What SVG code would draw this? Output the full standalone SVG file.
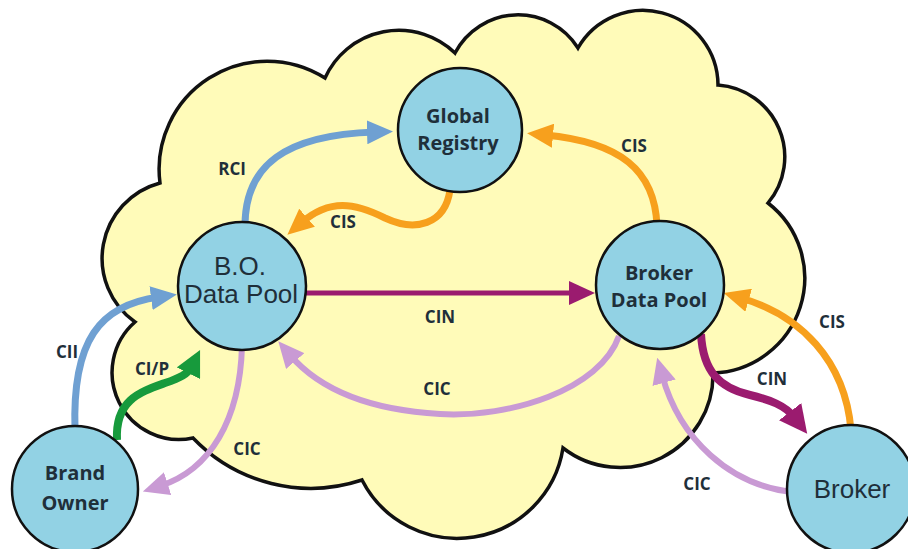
<svg xmlns="http://www.w3.org/2000/svg" width="908" height="549" viewBox="0 0 908 549">
<style>
.cloud{fill:#fffbb9;stroke:#111;stroke-width:3.5;stroke-linejoin:miter}
.node{fill:#92d2e4;stroke:#111;stroke-width:2.5}
.bt{font-family:"Open Sans","Liberation Sans",sans-serif;font-weight:bold;font-size:20px;fill:#1f2f3a;text-anchor:middle}
.rt{font-family:"Liberation Sans",Arial,sans-serif;font-size:26px;fill:#1f2f3a;text-anchor:middle}
.lbl{font-family:"Open Sans","Liberation Sans",sans-serif;font-weight:bold;font-size:17px;fill:#1f2f3a;text-anchor:middle}
.c{fill:none;stroke-linecap:butt}
.blue{stroke:#6fa0d2;stroke-width:7}
.orange{stroke:#f7a01d;stroke-width:7}
.purple{stroke:#9b1b6f}
.lilac{stroke:#c99ad4;stroke-width:6}
.green{stroke:#179a3c;stroke-width:8}
</style>
<defs>
<marker id="hBlue" viewBox="0 0 26 24" refX="8" refY="12" markerWidth="26" markerHeight="24" markerUnits="userSpaceOnUse" orient="auto"><path d="M0,0 L26,12 L0,24 Z" fill="#6fa0d2"/></marker>
<marker id="hOrange" viewBox="0 0 26 24" refX="8" refY="12" markerWidth="26" markerHeight="24" markerUnits="userSpaceOnUse" orient="auto"><path d="M0,0 L26,12 L0,24 Z" fill="#f7a01d"/></marker>
<marker id="hPurple" viewBox="0 0 26 24" refX="8" refY="12" markerWidth="26" markerHeight="24" markerUnits="userSpaceOnUse" orient="auto"><path d="M0,0 L26,12 L0,24 Z" fill="#9b1b6f"/></marker>
<marker id="hPurpleL" viewBox="0 0 28 28" refX="8" refY="14" markerWidth="28" markerHeight="28" markerUnits="userSpaceOnUse" orient="auto"><path d="M0,0 L28,14 L0,28 Z" fill="#9b1b6f"/></marker>
<marker id="hLilac" viewBox="0 0 26 24" refX="8" refY="12" markerWidth="26" markerHeight="24" markerUnits="userSpaceOnUse" orient="auto"><path d="M0,0 L26,12 L0,24 Z" fill="#c99ad4"/></marker>
<marker id="hGreen" viewBox="0 0 26 26" refX="8" refY="13" markerWidth="26" markerHeight="26" markerUnits="userSpaceOnUse" orient="auto"><path d="M0,0 L26,13 L0,26 Z" fill="#179a3c"/></marker>
</defs>
<rect width="908" height="549" fill="#ffffff"/>
<path id="cloud" class="cloud" d="M325,78 A81,81 0 0 1 455,53 A71,71 0 0 1 578,48 A75,75 0 0 1 718,85 A72,72 0 0 1 768,203 A95,95 0 0 1 713,373 A93,93 0 0 1 563,448 A107,107 0 0 1 362,480 A163,163 0 0 1 193,438 A67,67 0 0 1 135,322 A78,78 0 0 1 160,183 A108,108 0 0 1 325,78 Z"/>
<g id="connectors">
<path class="c blue" d="M245,226 C245,165 285,135 375,132" marker-end="url(#hBlue)"/>
<path class="c orange" d="M450,190 C445,225 415,232 385,218 C355,203 330,198 301,223" marker-end="url(#hOrange)"/>
<path class="c orange" d="M657,226 C655,170 620,142 545,135" marker-end="url(#hOrange)"/>
<path class="c purple" style="stroke-width:5" d="M300,293 L577,293" marker-end="url(#hPurple)"/>
<path class="c lilac" d="M619,336 C600,390 510,418 440,414 C370,410 320,390 290,355" marker-end="url(#hLilac)"/>
<path class="c blue" d="M75,430 C72,340 100,305 159,297" marker-end="url(#hBlue)"/>
<path class="c green" d="M117,440 C115,400 140,392 165,383 C180,378 188,374 192,366" marker-end="url(#hGreen)"/>
<path class="c lilac" d="M242,346 C240,420 210,470 160,486" marker-end="url(#hLilac)"/>
<path class="c purple" style="stroke-width:8" d="M701,334 C703,372 720,388 750,395 C770,400 785,405 795,418" marker-end="url(#hPurpleL)"/>
<path class="c orange" d="M851,430 C845,360 800,315 741,298" marker-end="url(#hOrange)"/>
<path class="c lilac" d="M792,492 C730,485 680,440 662,375" marker-end="url(#hLilac)"/>
</g>
<g id="labels">
<text class="lbl" x="232" y="175">RCI</text>
<text class="lbl" x="343" y="228">CIS</text>
<text class="lbl" x="634" y="152">CIS</text>
<text class="lbl" x="440" y="323">CIN</text>
<text class="lbl" x="437" y="395">CIC</text>
<text class="lbl" x="67" y="358">CII</text>
<text class="lbl" x="152" y="375">CI/P</text>
<text class="lbl" x="247" y="455">CIC</text>
<text class="lbl" x="772" y="385">CIN</text>
<text class="lbl" x="832" y="328">CIS</text>
<text class="lbl" x="697" y="490">CIC</text>
</g>
<g id="global-registry">
<circle class="node" cx="460" cy="130" r="62"/>
<text class="bt" x="458" y="123">Global</text>
<text class="bt" x="458" y="150">Registry</text>
</g>
<g id="bo-data-pool">
<circle class="node" cx="242" cy="286" r="64"/>
<text class="rt" x="240" y="275">B.O.</text>
<text class="rt" x="241" y="303">Data Pool</text>
</g>
<g id="broker-data-pool">
<circle class="node" cx="660" cy="285" r="64"/>
<text class="bt" x="659" y="280">Broker</text>
<text class="bt" x="659" y="307">Data Pool</text>
</g>
<g id="brand-owner">
<circle class="node" cx="75" cy="489" r="63"/>
<text class="bt" x="75" y="480">Brand</text>
<text class="bt" x="75" y="510">Owner</text>
</g>
<g id="broker">
<circle class="node" cx="851" cy="489" r="64"/>
<text class="rt" x="852" y="498">Broker</text>
</g>
</svg>
